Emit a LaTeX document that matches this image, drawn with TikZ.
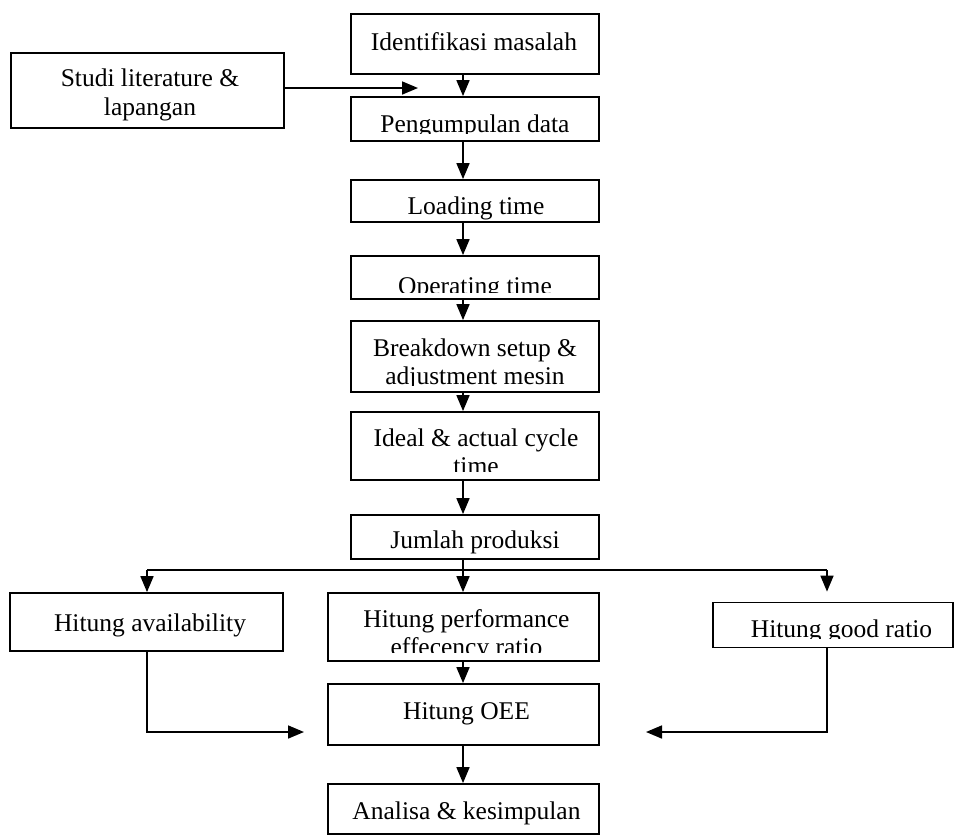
\documentclass[tikz,border=0pt]{standalone}
\usepackage{fontspec}
\setmainfont{Liberation Serif}
\usetikzlibrary{arrows.meta}
\begin{document}
\begin{tikzpicture}[x=1pt,y=-1pt,
  box/.style={draw, line width=1.8pt, inner sep=0pt, rectangle},
  txt/.style={anchor=base, inner sep=0pt, font=\fontsize{25.5}{28}\selectfont},
  conn/.style={line width=1.7pt, -{Triangle[length=16pt,width=13pt]}},
  plain/.style={line width=1.7pt}]
\useasboundingbox (0,0) rectangle (956,836);
\coordinate (col) at (463,0);

% boxes
\node[box, minimum width=248pt, minimum height=60pt] (ident) at (475,44) {};
\node[box, minimum width=273pt, minimum height=75pt] (studi) at (147.5,90.5) {};
\node[box, minimum width=248pt, minimum height=44pt] (kumpul) at (475,119) {};
\node[box, minimum width=248pt, minimum height=42pt] (load) at (475,201) {};
\node[box, minimum width=248pt, minimum height=43pt] (oper) at (475,277.5) {};
\node[box, minimum width=248pt, minimum height=71pt] (brk) at (475,356.5) {};
\node[box, minimum width=248pt, minimum height=68pt] (ideal) at (475,446) {};
\node[box, minimum width=248pt, minimum height=44pt] (jml) at (475,537) {};
\node[box, minimum width=273pt, minimum height=58pt] (avail) at (146.5,622) {};
\node[box, minimum width=271pt, minimum height=68pt] (perf) at (463.5,627) {};
\node[box, minimum width=240pt, minimum height=45pt] (good) at (833,625) {};
\node[box, minimum width=271pt, minimum height=61pt] (oee) at (463.5,714.5) {};
\node[box, minimum width=271pt, minimum height=50pt] (ana) at (463.5,809) {};

% texts
\node[txt] (identT) at (474,50) {Identifikasi masalah};
\node[txt] (studiT1) at (150,86.5) {Studi literature \&};
\node[txt] (studiT2) at (150,115) {lapangan};
\begin{scope}
  \clip (352,98) rectangle (598,133);
  \node[txt] (kumpulT) at (475,132) {Pengumpulan data};
\end{scope}
\node[txt] (loadT) at (476,214) {Loading time};
\begin{scope}
  \clip (352,257) rectangle (598,292);
  \node[txt] (operT) at (475,294) {Operating time};
\end{scope}
\node[txt] (brkT1) at (475,356) {Breakdown setup \&};
\begin{scope}
  \clip (352,360) rectangle (598,385);
  \node[txt] (brkT2) at (475,384) {adjustment mesin};
\end{scope}
\node[txt] (idealT1) at (476,446.5) {Ideal \& actual cycle};
\begin{scope}
  \clip (352,450) rectangle (598,471.5);
  \node[txt] (idealT2) at (476,474.5) {time};
\end{scope}
\node[txt] (jmlT) at (475,548) {Jumlah produksi};
\node[txt] (availT) at (150,631.5) {Hitung availability};
\node[txt] (perfT1) at (466.5,627.5) {Hitung performance};
\begin{scope}
  \clip (329,631) rectangle (598,652.5);
  \node[txt] (perfT2) at (466.5,655.5) {effecency ratio};
\end{scope}
\begin{scope}
  \clip (714,603) rectangle (952,638);
  \node[txt] (goodT) at (841.5,637) {Hitung good ratio};
\end{scope}
\node[txt] (oeeT) at (466.5,719.5) {Hitung OEE};
\node[txt] (anaT) at (466.5,819.5) {Analisa \& kesimpulan};

% connectors
\coordinate (studiTip) at (418,88);
\draw[conn] (studi.east |- studiTip) -- (studiTip);
\draw[conn] (ident.south -| col) -- (kumpul.north -| col);
\draw[conn] (kumpul.south -| col) -- (load.north -| col);
\draw[conn] (load.south -| col) -- (oper.north -| col);
\draw[conn] (oper.south -| col) -- (brk.north -| col);
\draw[conn] (brk.south -| col) -- (ideal.north -| col);
\draw[conn] (ideal.south -| col) -- (jml.north -| col);

\coordinate (bus) at (463,570);
\coordinate (busL) at (147,570);
\coordinate (busR) at (827,570);
\draw[plain] (jml.south -| col) -- (bus);
\draw[plain] (busL) -- (busR);
\draw[conn] (busL) -- (avail.north -| busL);
\draw[conn] (bus) -- (perf.north -| bus);
\draw[conn, shorten >=10pt] (busR) -- (good.north -| busR);

\draw[conn] (perf.south -| col) -- (oee.north -| col);
\draw[conn] (oee.south -| col) -- (ana.north -| col);

\coordinate (leftTip) at (304,732);
\coordinate (rightTip) at (646,732);
\draw[conn] (avail.south -| busL) |- (leftTip);
\draw[conn] (good.south -| busR) |- (rightTip);
\end{tikzpicture}
\end{document}
